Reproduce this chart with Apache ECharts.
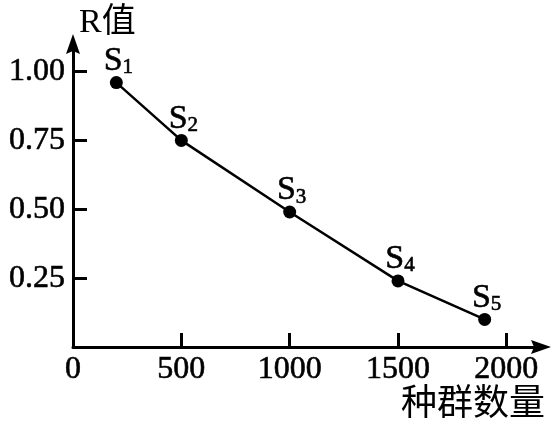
<!DOCTYPE html>
<html><head><meta charset="utf-8">
<script src="https://cdn.jsdelivr.net/npm/echarts@6/dist/echarts.min.js"></script>
<style>html,body{margin:0;padding:0;background:#fff}#c{width:559px;height:428px}</style>
</head><body><div id="c"></div>
<script>
var populationSizes = [200, 500, 1000, 1500, 1900];
var rValues = [0.96, 0.75, 0.49, 0.24, 0.10];
var pointNames = ['1', '2', '3', '4', '5'];
var xTickValues = [0, 500, 1000, 1500, 2000];
var xTickMarks = [500, 1000, 1500, 2000];
var yTickValues = [0.25, 0.5, 0.75, 1.0];
var xAxisTitle = '种群数量';
var yAxisTitle = 'R值';

var serif = '"Liberation Serif", "Noto Sans CJK SC", serif';
var arrowPath = 'path://M7,0 L14,20 L7,17 L0,20 Z';
var chart = echarts.init(document.getElementById('c'), null, {renderer: 'canvas'});
var data = populationSizes.map(function (x, i) { return {value: [x, rValues[i]], sub: pointNames[i]}; });
var thick = {textBorderColor: '#000', textBorderWidth: 0.6};

chart.setOption({
  animation: false,
  grid: {left: 73, right: 18, top: 44, bottom: 81, outerBoundsMode: 'none', containLabel: false},
  xAxis: {
    type: 'value', min: 0, max: 2160,
    name: xAxisTitle, nameLocation: 'end', nameGap: 4, nameMoveOverlap: false,
    nameTextStyle: {fontFamily: serif, fontSize: 36, color: '#000', align: 'right', verticalAlign: 'top', padding: [41, 0, 0, 0]},
    splitLine: {show: false},
    axisLine: {show: true, lineStyle: {color: '#000', width: 3}, symbol: ['none', arrowPath], symbolSize: [14, 20], symbolOffset: [0, 0]},
    axisTick: {show: true, inside: true, length: 14, lineStyle: {color: '#000', width: 3}, customValues: xTickMarks},
    axisLabel: Object.assign({fontFamily: serif, fontSize: 32, color: '#000', margin: 7, customValues: xTickValues,
      formatter: function (v) { return String(v); }}, thick)
  },
  yAxis: {
    type: 'value', min: 0, max: 1.1,
    name: yAxisTitle, nameLocation: 'end', nameGap: 0, nameMoveOverlap: false,
    nameTextStyle: {fontFamily: serif, fontSize: 34, color: '#000', align: 'left', verticalAlign: 'bottom', padding: [0, 0, 4, 6]},
    splitLine: {show: false},
    axisLine: {show: true, lineStyle: {color: '#000', width: 3}, symbol: ['none', arrowPath], symbolSize: [14, 20], symbolOffset: [0, 0]},
    axisTick: {show: true, inside: true, length: 14, lineStyle: {color: '#000', width: 3}, customValues: yTickValues},
    axisLabel: Object.assign({fontFamily: serif, fontSize: 32, color: '#000', margin: 8, customValues: yTickValues,
      formatter: function (v) { return v.toFixed(2); }}, thick)
  },
  series: [{
    type: 'line', data: data,
    symbol: 'circle', symbolSize: 13,
    lineStyle: {color: '#000', width: 2.5},
    itemStyle: {color: '#000'},
    label: {
      show: true, position: 'top', distance: 0, offset: [2, 2],
      formatter: function (p) { return '{s|S}{sub|' + p.data.sub + '}'; },
      rich: {
        s: Object.assign({fontFamily: serif, fontSize: 34, color: '#000', lineHeight: 34}, thick),
        sub: Object.assign({fontFamily: serif, fontSize: 21, color: '#000', lineHeight: 8, verticalAlign: 'bottom'}, thick)
      }
    }
  }]
});
</script></body></html>
